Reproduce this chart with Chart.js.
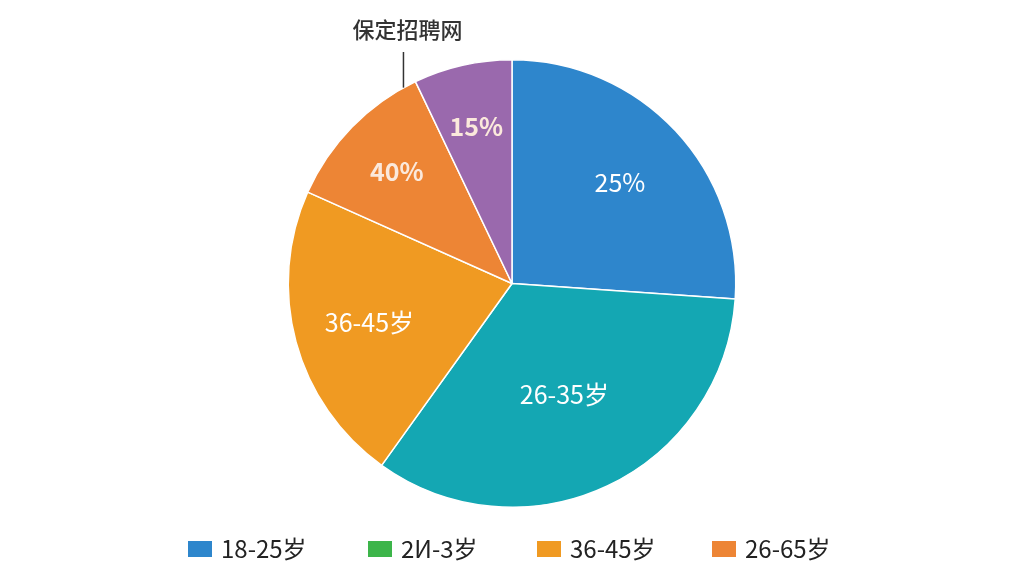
<!DOCTYPE html>
<html>
<head>
<meta charset="utf-8">
<script src="https://cdn.jsdelivr.net/npm/chart.js@4"></script>
<style>
  html, body { margin: 0; background: #fff; }
  #wrap { width: 1024px; height: 576px; }
</style>
</head>
<body>
<div id="wrap"><canvas id="pie"></canvas></div>
<script>
// Data
const sliceNames = ['18-25岁', '26-35岁', '36-45岁', '46-55岁', '56-65岁'];
const sliceValues = [26.1, 33.8, 21.8, 11.2, 7.1];
const sliceLabels = ['25%', '26-35岁', '36-45岁', '40%', '15%'];
const sliceColors = ['#2e86cc', '#14a7b3', '#f09a22', '#ed8535', '#9a69ad'];
const legendNames = ['18-25岁', '2И-3岁', '36-45岁', '26-65岁'];
const legendColors = ['#2e86cc', '#3cb54a', '#f09a22', '#ed8535'];
const sourceText = '保定招聘网';

const fontFamily = '"Noto Sans CJK SC", "Noto Sans", sans-serif';

// Labels inside slices + source note + custom legend
const decorations = {
  id: 'decorations',
  afterDraw(chart) {
    const ctx = chart.ctx;
    const meta = chart.getDatasetMeta(0);
    ctx.save();
    ctx.textAlign = 'center';
    ctx.textBaseline = 'middle';
    meta.data.forEach((arc, i) => {
      const mid = (arc.startAngle + arc.endAngle) / 2;
      const f = i >= 3 ? 0.72 : (i === 1 ? 0.55 : 0.66);
      const r = arc.outerRadius * f;
      const x = arc.x + Math.cos(mid) * r;
      const y = arc.y + Math.sin(mid) * r;
      const bold = i >= 3;
      ctx.font = (bold ? 'bold ' : '') + '25px ' + fontFamily;
      ctx.fillStyle = bold ? '#fbe9dc' : '#ffffff';
      ctx.fillText(sliceLabels[i], x, y);
    });

    // source note with leader line
    const purple = meta.data[4];
    const lx = purple.x + Math.cos(purple.startAngle) * purple.outerRadius;
    ctx.strokeStyle = '#333';
    ctx.lineWidth = 1.5;
    ctx.beginPath();
    ctx.moveTo(lx - 12, 52);
    ctx.lineTo(lx - 12, purple.y + Math.sin(purple.startAngle) * purple.outerRadius + 6);
    ctx.stroke();
    ctx.font = '500 22px ' + fontFamily;
    ctx.fillStyle = '#333';
    ctx.fillText(sourceText, lx - 8, 30);

    // legend
    const xs = [188, 368, 537, 712];
    ctx.textAlign = 'left';
    ctx.font = '24px ' + fontFamily;
    legendNames.forEach((name, i) => {
      ctx.fillStyle = legendColors[i];
      ctx.fillRect(xs[i], 541, 24, 16);
      ctx.fillStyle = '#222';
      ctx.fillText(name, xs[i] + 33, 549);
    });
    ctx.restore();
  }
};

new Chart(document.getElementById('pie'), {
  type: 'pie',
  data: {
    labels: sliceNames,
    datasets: [{
      data: sliceValues,
      backgroundColor: sliceColors,
      borderColor: '#ffffff',
      borderWidth: 1.5
    }]
  },
  options: {
    responsive: true,
    maintainAspectRatio: false,
    animation: false,
    layout: { padding: { top: 59, bottom: 68 } },
    plugins: {
      legend: { display: false },
      tooltip: { enabled: false }
    }
  },
  plugins: [decorations]
});
</script>
</body>
</html>
